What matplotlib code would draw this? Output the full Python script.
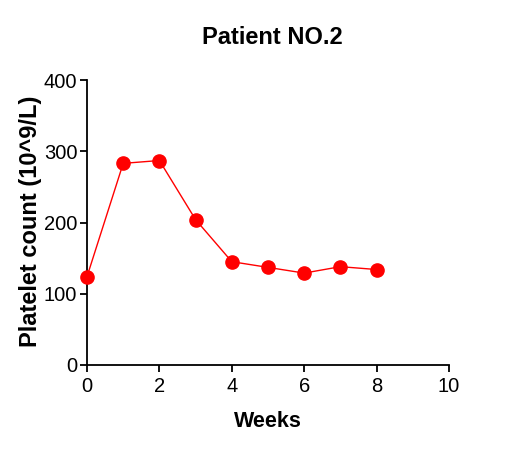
import matplotlib
matplotlib.use("Agg")
import matplotlib.pyplot as plt

weeks = [0, 1, 2, 3, 4, 5, 6, 7, 8]
platelets = [124, 283, 287, 204, 145, 137, 129, 138, 134]
xticks = [0, 2, 4, 6, 8, 10]
yticks = [0, 100, 200, 300, 400]

plt.rcParams['font.family'] = ['Liberation Sans', 'DejaVu Sans']

fig = plt.figure(figsize=(5.07, 4.53), dpi=100)
ax = fig.add_axes([87/507, 1-365/453, (449-87)/507, (365-80)/453])

ax.plot(weeks, platelets, color='#ff0000', lw=1.0, marker='o', markersize=9.5,
        markerfacecolor='#ff0000', markeredgecolor='#ff0000', clip_on=False, zorder=3)

ax.set_xlim(0, 10)
ax.set_ylim(0, 400)
ax.set_xticks(xticks)
ax.set_yticks(yticks)
for s in ['top', 'right']:
    ax.spines[s].set_visible(False)
for s in ['left', 'bottom']:
    ax.spines[s].set_linewidth(1.3)
ax.tick_params(direction='out', length=5, width=1.3, labelsize=14.5)
ax.tick_params(axis='x', pad=4)
ax.tick_params(axis='y', pad=2)

ax.set_xlabel('Weeks', fontsize=15.5, fontweight='bold')
ax.xaxis.set_label_coords((268-87)/(449-87), -(427-365)/(365-80), transform=ax.transAxes)
ax.xaxis.label.set_va('baseline')
ax.set_ylabel('Platelet count (10^9/L)', fontsize=17, fontweight='bold')
ax.yaxis.set_label_coords(-(87-31)/(449-87), (365-221)/(365-80))
ax.yaxis.label.set_va('center')
fig.text(272/507, 1-38/453, 'Patient NO.2', fontsize=17, fontweight='bold', ha='center', va='center')

fig.savefig('out.png', dpi=100)
